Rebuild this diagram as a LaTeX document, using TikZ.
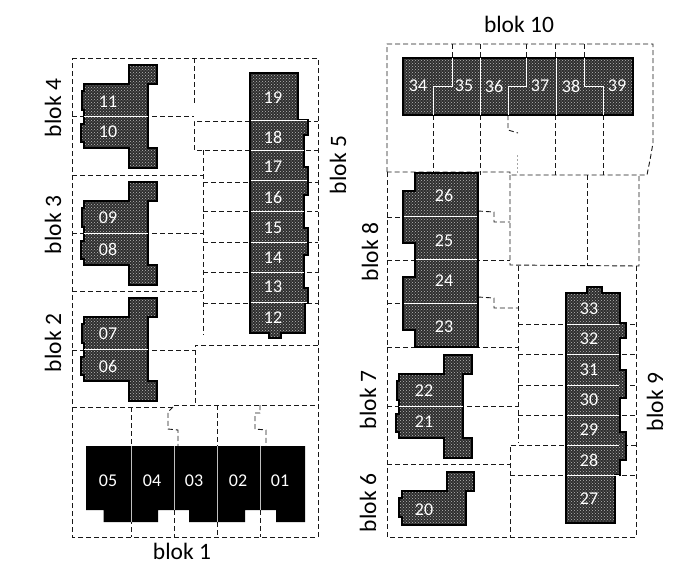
\documentclass[tikz,border=0pt]{standalone}
\usepackage{fontspec}
\setmainfont{Carlito}
\usetikzlibrary{patterns}
\tikzset{
    flat/.style = {
        draw = black, line width = 1.2pt,
        preaction = {fill = black!82},
        pattern = crosshatch dots, pattern color = white!72!black
    },
    blackflat/.style = {fill = black},
    split/.style = {draw = white, line width = 1pt},
    blacksplit/.style = {draw = black!25, line width = 0.9pt},
    plot/.style = {draw = black!90, line width = 0.9pt, dash pattern = on 5pt off 3pt},
    faint/.style = {draw = black!35, line width = 0.75pt, dash pattern = on 2pt off 2pt},
    flatlabel/.style = {text = white, font = \fontsize{18}{20}\selectfont, inner sep = 0pt},
    bloklabel/.style = {font = \fontsize{23.5}{25}\selectfont, inner sep = 0pt}
}

\begin{document}
\begin{tikzpicture}[x=1pt, y=-1pt]

    \useasboundingbox (0,0) rectangle (699,563);

    % plots left half
    \draw[plot] (72,58) -- (318,58) -- (318,537) -- (72,537) -- cycle;
    \draw[plot] (194,58) -- (194,105);
    \draw[plot] (72,116) -- (194,116);
    \draw[plot] (250,121) -- (194,121) -- (194,150) -- (250,150);
    \draw[plot] (203,150) -- (203,335);
    \draw[plot] (72,175) -- (203,175);
    \draw[plot] (72,233) -- (203,233);
    \draw[plot] (72,291) -- (203,291);
    \draw[plot] (72,350) -- (195,350);
    \foreach \y in {182,211,242,272,303} {
        \draw[plot] (203,\y) -- (318,\y);
    }
    \draw[plot] (250,121) -- (318,121);
    \draw[plot] (250,150) -- (318,150);
    \draw[plot] (318,345) -- (195,345) -- (195,405);
    \draw[plot] (72,407) -- (173,407) -- (173,405) -- (318,405);
    \draw[plot] (131,407) -- (131,537);
    \draw[plot] (173,407) -- (168,412) -- (168,429) -- (178,430) -- (178,446);
    \draw[plot] (217,405) -- (217,446);
    \draw[plot] (260,405) -- (260,413) -- (255,413) -- (255,429) -- (266,430) -- (266,446);
    \draw[plot] (174,510) -- (174,537);
    \draw[plot] (217,522) -- (217,537);
    \draw[plot] (260,510) -- (260,537);

    % plots right half
    \draw[plot] (387,172) -- (387,44) -- (653,44) -- (653,143) -- (650,160) -- (647,175) -- (510,175) -- (510,172) -- cycle;
    \draw[plot] (387,172) -- (387,537) -- (636,537) -- (636,266);
    \foreach \x in {452,480,526,555,584} {
        \draw[plot] (\x,44) -- (\x,58);
    }
    \foreach \x in {433,480,555,603} {
        \draw[plot] (\x,115) -- (\x,175);
    }
    \draw[plot] (508,115) -- (508,130) -- (518,133);
    \draw[faint] (517,155) -- (517,175);
    \draw[plot] (510,175) -- (510,265) -- (639,266) -- (639,175);
    \draw[plot] (587,175) -- (587,266);
    \draw[plot] (387,217) -- (403,217);
    \draw[plot] (478,211) -- (494,212) -- (494,222) -- (510,222);
    \draw[plot] (387,260) -- (510,260);
    \draw[plot] (518,266) -- (518,443);
    \draw[plot] (478,297) -- (494,298) -- (494,308) -- (518,308);
    \draw[plot] (387,303) -- (403,303);
    \draw[plot] (387,347) -- (518,347);
    \draw[plot] (387,406) -- (518,406);
    \draw[plot] (387,464) -- (510,464);
    \draw[plot] (636,445) -- (510,445) -- (510,537);
    \foreach \y in {324,354,385,415} {
        \draw[plot] (518,\y) -- (636,\y);
    }
    \draw[plot] (510,475) -- (636,475);

    % twin flats of blok 4, 3, 2, 7
    \foreach \dx/\dy in {0/0, 0/117, 0/233, 315/290} {
        \begin{scope}[shift={(\dx,\dy)}]
            \draw[flat] (84,84) -- (129,84) -- (129,65) -- (157,65) -- (157,84) -- (148,84) -- (148,148) -- (157,148) -- (157,168) -- (129,168) -- (129,148) -- (84,148) -- (84,142) -- (81,142) -- (81,124) -- (84,124) -- (84,110) -- (82,110) -- (82,91) -- (84,91) -- cycle;
            \draw[split] (84,116) -- (148,116);
        \end{scope}
    }

    % blok 6
    \draw[flat] (402,491) -- (447,491) -- (447,472) -- (474,472) -- (474,491) -- (466,491) -- (466,525) -- (402,525) -- (402,517) -- (399,517) -- (399,498) -- (402,498) -- cycle;

    % blok 5
    \draw[flat] (250,73) -- (298,73) -- (298,120) -- (308,120) -- (308,135) -- (304,135) -- (304,167) -- (308,167) -- (308,195) -- (304,195) -- (304,228) -- (308,228) -- (308,255) -- (304,255) -- (304,288) -- (308,288) -- (308,303) -- (305,303) -- (305,333) -- (281,333) -- (281,338) -- (269,338) -- (269,333) -- (250,333) -- cycle;
    \foreach \y/\xe in {120/307,150/304,180/307,211/304,242/307,272/304,302/307} {
        \draw[split] (251,\y) -- (\xe,\y);
    }

    % blok 8
    \draw[flat] (415,173) -- (478,173) -- (478,347) -- (415,347) -- (415,330) -- (403,330) -- (403,277) -- (415,277) -- (415,243) -- (403,243) -- (403,191) -- (415,191) -- cycle;
    \foreach \y/\xs in {216/404,259/416,303/404} {
        \draw[split] (\xs,\y) -- (477,\y);
    }

    % blok 9
    \draw[flat] (566,293) -- (587,293) -- (587,287) -- (602,287) -- (602,293) -- (620,293) -- (620,323) -- (626,323) -- (626,338) -- (620,338) -- (620,370) -- (626,370) -- (626,398) -- (620,398) -- (620,432) -- (626,432) -- (626,460) -- (620,460) -- (620,475) -- (615,475) -- (615,523) -- (566,523) -- cycle;
    \foreach \y in {324,354,385,415,445,475} {
        \draw[split] (567,\y) -- (619,\y);
    }

    % blok 10
    \draw[flat] (403,58) rectangle (633,115);
    \draw[split] (452,58) -- (452,86) -- (433,86) -- (433,115);
    \draw[split] (480,58) -- (480,115);
    \draw[split] (526,58) -- (526,86) -- (508,86) -- (508,115);
    \draw[split] (556,58) -- (556,115);
    \draw[split] (584,58) -- (584,86) -- (603,86) -- (603,115);

    % blok 1
    \fill[blackflat] (86,446) -- (305,446) -- (305,522) -- (276,522) -- (276,510) -- (245,510) -- (245,522) -- (189,522) -- (189,510) -- (158,510) -- (158,522) -- (103.5,522) -- (103.5,510) -- (86,510) -- cycle;
    \foreach \x/\ye in {131/522,174/510,217/522,260/510} {
        \draw[blacksplit] (\x,446) -- (\x,\ye);
    }

    % numbers
    \foreach \n/\x/\y in {01/280/481,02/238/481,03/194/481,04/152/481,05/108/481,
        06/108/366,07/108/334,08/108/249,09/108/218,10/108/132,11/108/102,
        12/273/318,13/273/287,14/273/258,15/273/228,16/273/197,17/273/167,18/273/137,19/273/98,
        20/424/510,21/424/422,22/424/391,23/444/327,24/444/281,25/444/241,26/444/195,
        27/589/499,28/589/460,29/589/430,30/589/400,31/589/370,32/589/339,33/589/309,
        34/418/86,35/464/86,36/494/86,37/540/86,38/571/86,39/617/86} {
        \node[flatlabel] (flat\n) at (\x,\y) {\n};
    }

    % blok names
    \node[bloklabel] (blok1) at (182,551) {blok 1};
    \node[bloklabel, rotate=90] (blok2) at (53,343) {blok 2};
    \node[bloklabel, rotate=90] (blok3) at (53,225) {blok 3};
    \node[bloklabel, rotate=90] (blok4) at (53,108) {blok 4};
    \node[bloklabel, rotate=90] (blok5) at (338,165) {blok 5};
    \node[bloklabel, rotate=90] (blok6) at (368,503) {blok 6};
    \node[bloklabel, rotate=90] (blok7) at (368,400) {blok 7};
    \node[bloklabel, rotate=90] (blok8) at (370,252) {blok 8};
    \node[bloklabel, rotate=90] (blok9) at (655,402) {blok 9};
    \node[bloklabel] (blok10) at (519,24) {blok 10};

\end{tikzpicture}
\end{document}
